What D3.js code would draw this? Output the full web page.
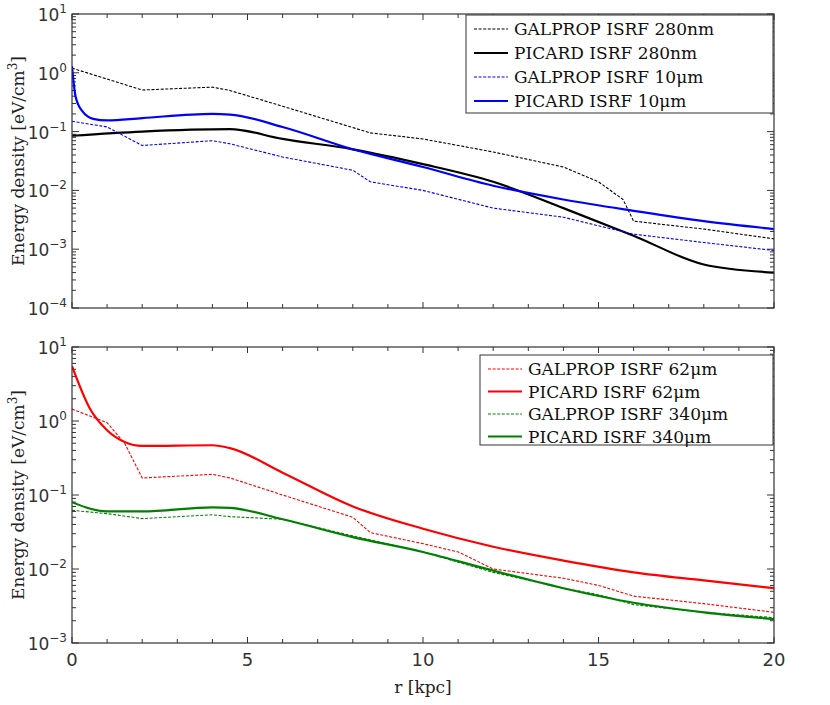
<!DOCTYPE html>
<html><head><meta charset="utf-8">
<script src="https://cdn.jsdelivr.net/npm/d3@7"></script>
<style>body{margin:0;background:#fff}</style>
</head><body>
<script>
// r [kpc] and energy densities [eV/cm^3]
const galprop280R = [0, 2, 4, 4.5, 6, 8.5, 10, 12, 14, 15, 15.7, 16, 18, 20];
const galprop280V = [1.2, 0.51, 0.57, 0.5, 0.27, 0.095, 0.075, 0.045, 0.025, 0.014, 0.007, 0.003, 0.0022, 0.0015];
const picard280R = [0, 2, 4.5, 6, 8, 10, 12, 14, 16, 18, 20];
const picard280V = [0.085, 0.1, 0.11, 0.075, 0.05, 0.028, 0.014, 0.005, 0.0017, 0.00055, 0.0004];
const galprop10R = [0, 1, 2, 4, 4.5, 6, 8, 8.5, 10, 12, 14, 15, 16, 18, 20];
const galprop10V = [0.15, 0.12, 0.058, 0.07, 0.062, 0.037, 0.022, 0.014, 0.01, 0.005, 0.0035, 0.0025, 0.0018, 0.0013, 0.00095];
const picard10R = [0, 0.1, 0.3, 0.6, 1, 2, 4, 4.5, 6, 8, 10, 12, 14, 16, 18, 20];
const picard10V = [1.3, 0.4, 0.22, 0.165, 0.155, 0.17, 0.2, 0.195, 0.12, 0.05, 0.025, 0.012, 0.007, 0.0045, 0.003, 0.0022];

const picard62R = [0, 0.5, 1, 1.5, 2, 4, 4.5, 6, 8, 10, 12, 14, 16, 18, 20];
const picard62V = [5.5, 1.5, 0.75, 0.52, 0.46, 0.47, 0.43, 0.2, 0.07, 0.035, 0.02, 0.013, 0.009, 0.007, 0.0055];
const galprop62R = [0, 1, 1.5, 2, 4, 4.5, 6, 8, 8.5, 10, 11, 12, 14, 15, 16, 18, 20];
const galprop62V = [1.45, 0.95, 0.5, 0.17, 0.19, 0.17, 0.1, 0.05, 0.031, 0.022, 0.017, 0.01, 0.0075, 0.006, 0.0043, 0.0034, 0.0026];
const picard340R = [0, 1, 2, 4, 4.5, 6, 8, 10, 12, 14, 16, 18, 20];
const picard340V = [0.08, 0.06, 0.06, 0.068, 0.067, 0.047, 0.027, 0.017, 0.0095, 0.0055, 0.0035, 0.0026, 0.0021];
const galprop340R = [0, 1, 2, 4, 4.5, 6, 8, 10, 12, 14, 15, 16, 18, 20];
const galprop340V = [0.062, 0.056, 0.048, 0.054, 0.051, 0.047, 0.028, 0.017, 0.009, 0.0055, 0.0045, 0.0033, 0.0026, 0.0022];

const xTicks = [0, 5, 10, 15, 20];
const topDecades = [1, 0, -1, -2, -3, -4];
const botDecades = [1, 0, -1, -2, -3];

const pair = (R, V) => R.map((r, i) => [r, V[i]]);

const topSeries = [
  { name: "GALPROP ISRF 280nm", pts: pair(galprop280R, galprop280V), color: "#000", dash: true },
  { name: "PICARD ISRF 280nm", pts: pair(picard280R, picard280V), color: "#000", dash: false },
  { name: "GALPROP ISRF 10\u03bcm", pts: pair(galprop10R, galprop10V), color: "#0000ff", dash: true },
  { name: "PICARD ISRF 10\u03bcm", pts: pair(picard10R, picard10V), color: "#0000ff", dash: false },
];
const botSeries = [
  { name: "GALPROP ISRF 62\u03bcm", pts: pair(galprop62R, galprop62V), color: "#ff0000", dash: true },
  { name: "PICARD ISRF 62\u03bcm", pts: pair(picard62R, picard62V), color: "#ff0000", dash: false },
  { name: "GALPROP ISRF 340\u03bcm", pts: pair(galprop340R, galprop340V), color: "#008000", dash: true },
  { name: "PICARD ISRF 340\u03bcm", pts: pair(picard340R, picard340V), color: "#008000", dash: false },
];

const W = 830, H = 705;
const svg = d3.select("body").append("svg").attr("width", W).attr("height", H);
const x = d3.scaleLinear().domain([0, 20]).range([72, 774]);
const serif = "'DejaVu Serif', serif";
const sans = "'DejaVu Sans', sans-serif";

function panel(top, bottom, decades, series, legend, showX) {
  const y = d3.scaleLog().domain([Math.pow(10, d3.min(decades)), Math.pow(10, d3.max(decades))]).range([bottom, top]);
  const g = svg.append("g");
  const clip = "clip" + top;
  g.append("clipPath").attr("id", clip).append("rect")
    .attr("x", x(0)).attr("y", top).attr("width", x(20) - x(0)).attr("height", bottom - top);

  // minor ticks
  const minorX = d3.range(0, 21);
  const minorY = [];
  for (let e = d3.min(decades); e < d3.max(decades); e++)
    for (let k = 2; k < 10; k++) minorY.push(k * Math.pow(10, e));
  minorX.forEach(v => {
    const big = xTicks.includes(v) ? 6 : 4;
    g.append("line").attr("x1", x(v)).attr("x2", x(v)).attr("y1", bottom).attr("y2", bottom - big).attr("stroke", "#333");
    g.append("line").attr("x1", x(v)).attr("x2", x(v)).attr("y1", top).attr("y2", top + big).attr("stroke", "#333");
  });
  minorY.forEach(v => {
    g.append("line").attr("x1", x(0)).attr("x2", x(0) + 4).attr("y1", y(v)).attr("y2", y(v)).attr("stroke", "#333");
    g.append("line").attr("x1", x(20)).attr("x2", x(20) - 4).attr("y1", y(v)).attr("y2", y(v)).attr("stroke", "#333");
  });
  decades.forEach(e => {
    const v = Math.pow(10, e);
    g.append("line").attr("x1", x(0)).attr("x2", x(0) + 7).attr("y1", y(v)).attr("y2", y(v)).attr("stroke", "#333");
    g.append("line").attr("x1", x(20)).attr("x2", x(20) - 7).attr("y1", y(v)).attr("y2", y(v)).attr("stroke", "#333");
    const t = g.append("text").attr("x", x(0) - 5).attr("y", y(v) + 7).attr("text-anchor", "end")
      .attr("font-family", sans).attr("font-size", 17).attr("fill", "#333");
    t.append("tspan").text("10");
    t.append("tspan").attr("dy", -8).attr("font-size", 12).text(e < 0 ? "\u2212" + (-e) : e);
  });

  const smooth = d3.line().x(d => x(d[0])).y(d => y(d[1])).curve(d3.curveMonotoneX);
  const straight = d3.line().x(d => x(d[0])).y(d => y(d[1]));
  series.forEach(s => {
    g.append("path").attr("d", (s.dash ? straight : smooth)(s.pts)).attr("fill", "none")
      .attr("clip-path", `url(#${clip})`)
      .attr("stroke", s.color).attr("stroke-width", s.dash ? 1.1 : 2.2)
      .attr("stroke-dasharray", s.dash ? "3,1.6" : null);
  });

  g.append("rect").attr("x", x(0)).attr("y", top).attr("width", x(20) - x(0)).attr("height", bottom - top)
    .attr("fill", "none").attr("stroke", "#333").attr("stroke-width", 1.2);

  // y label
  const cy = (top + bottom) / 2;
  const yl = g.append("text").attr("transform", `translate(24,${cy}) rotate(-90)`).attr("text-anchor", "middle")
    .attr("font-family", serif).attr("font-size", 17).attr("fill", "#222");
  yl.append("tspan").text("Energy density [eV/cm");
  yl.append("tspan").attr("dy", -7).attr("font-size", 12).text("3");
  yl.append("tspan").attr("dy", 7).text("]");

  // legend
  g.append("rect").attr("x", legend.x).attr("y", legend.y).attr("width", x(20) - legend.x - 1).attr("height", legend.h)
    .attr("fill", "#fff").attr("stroke", "#333");
  series.forEach((s, i) => {
    const ly = legend.y + 14 + i * legend.step;
    g.append("line").attr("x1", legend.x + 8).attr("x2", legend.x + 42).attr("y1", ly).attr("y2", ly)
      .attr("stroke", s.color).attr("stroke-width", s.dash ? 1.1 : 2.2).attr("stroke-dasharray", s.dash ? "3,1.6" : null);
    g.append("text").attr("x", legend.x + 48).attr("y", ly + 6).attr("font-family", serif).attr("font-size", 17)
      .attr("fill", "#111").text(s.name);
  });

  if (showX) {
    xTicks.forEach(v => {
      g.append("text").attr("x", x(v)).attr("y", bottom + 23).attr("text-anchor", "middle")
        .attr("font-family", sans).attr("font-size", 18).attr("fill", "#333").text(v);
    });
    g.append("text").attr("x", x(10)).attr("y", bottom + 50).attr("text-anchor", "middle")
      .attr("font-family", serif).attr("font-size", 17).attr("fill", "#222").text("r [kpc]");
  }
}

panel(14, 308, topDecades, topSeries, { x: 466, y: 15, h: 98, step: 24 }, false);
panel(347, 643, botDecades, botSeries, { x: 480, y: 355, h: 90, step: 22.5 }, true);
</script>
</body></html>
